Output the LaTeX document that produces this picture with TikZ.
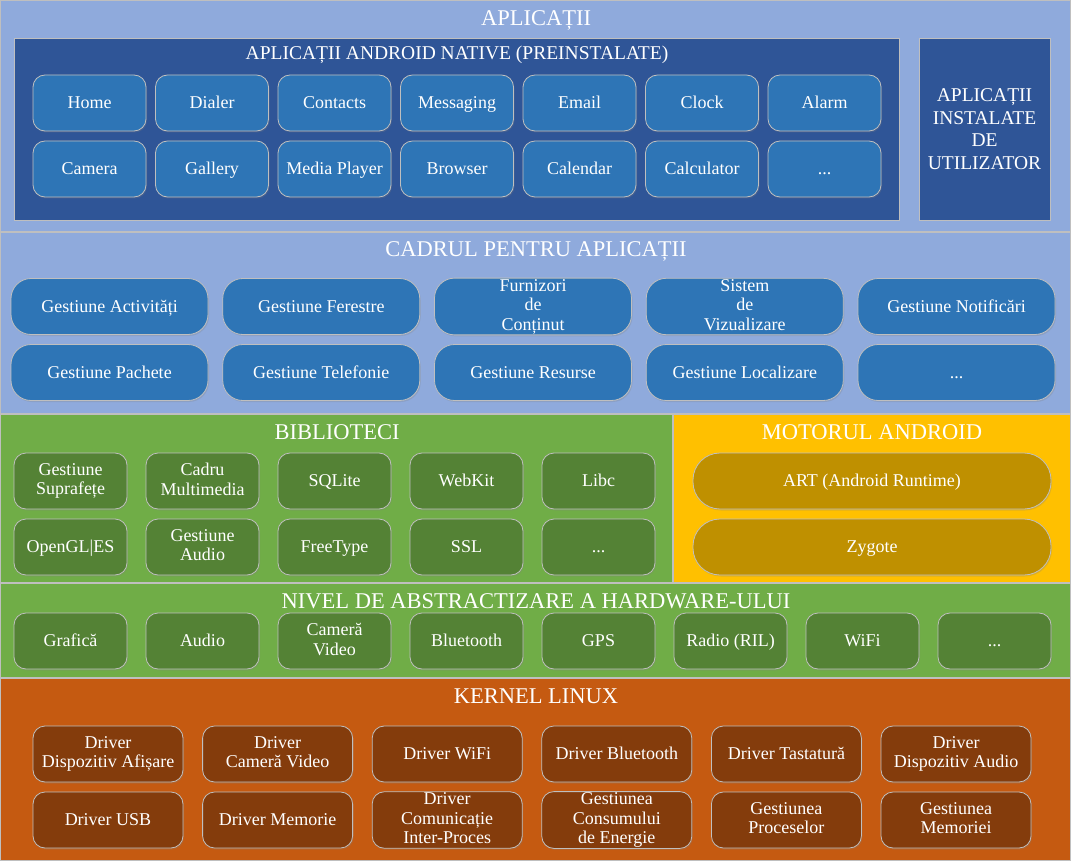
\documentclass[tikz,border=0pt]{standalone}
\usepackage{fontspec}
\setmainfont{Liberation Serif}
\usepackage{xcolor}
\usetikzlibrary{positioning, shadows}

\definecolor{skyblue}{HTML}{8FAADC}
\definecolor{navy}{HTML}{2F5597}
\definecolor{appblue}{HTML}{2E75B6}
\definecolor{libgreen}{HTML}{70AD47}
\definecolor{boxgreen}{HTML}{548235}
\definecolor{gold}{HTML}{FFC000}
\definecolor{darkgold}{HTML}{BF9000}
\definecolor{rust}{HTML}{C55A11}
\definecolor{brown}{HTML}{843C0C}
\definecolor{edgegray}{HTML}{BFBFBF}

\newcommand{\moredots}{...}

\begin{document}
\begin{tikzpicture}[x=1pt, y=-1pt,
	ttl/.style={text=white, font=\fontsize{22.5}{26}\selectfont, inner sep=0pt, text height=15pt, text depth=0pt},
	panel/.style={draw=edgegray, fill=navy, line width=0.8pt, inner sep=0pt},
	btn/.style={draw=edgegray, line width=0.8pt, rounded corners=12pt, minimum width=113pt, minimum height=56pt,
		text=white, align=center, inner sep=1pt, font=\fontsize{18}{19.5}\selectfont,
		execute at begin node={\rule{0pt}{15pt}}, execute at end node={\rule[-3.5pt]{0pt}{3.5pt}},
		drop shadow={opacity=0.25, shadow xshift=1pt, shadow yshift=-1.5pt}},
	appbtn/.style={btn, fill=appblue},
	fwbtn/.style={btn, fill=appblue, minimum width=197pt, rounded corners=20pt},
	libbtn/.style={btn, fill=boxgreen},
	artbtn/.style={btn, fill=darkgold, minimum width=358pt, rounded corners=27pt},
	krnbtn/.style={btn, fill=brown, minimum width=150pt},
]
\useasboundingbox (0,0) rectangle (1071,861);

% layers
\fill[skyblue] (0,0) rectangle (1071,414);
\fill[libgreen] (0,414) rectangle (673,583);
\fill[gold] (673,414) rectangle (1071,583);
\fill[libgreen] (0,583) rectangle (1071,678);
\fill[rust] (0,678) rectangle (1071,861);
\draw[edgegray, line width=1.2pt] (0,0) rectangle (1071,861);
\draw[edgegray, line width=1.2pt] (0,232) -- (1071,232) (0,414) -- (1071,414) (673,414) -- (673,583)
	(0,583) -- (1071,583) (0,678) -- (1071,678);

% aplicatii
\node[ttl] (tApl) at (536,18) {APLICAȚII};
\node[panel, minimum width=885pt, minimum height=182pt] (native) at (456.5,129) {};
\node[ttl, font=\fontsize{19.5}{22}\selectfont, text height=13pt] (tNative) at (457,53) {APLICAȚII ANDROID NATIVE (PREINSTALATE)};
\node[panel, minimum width=131pt, minimum height=182pt, text=white, align=center,
	font=\fontsize{19.5}{22.5}\selectfont] (userApps) at (984.5,129) {APLICAȚII\\INSTALATE\\DE\\UTILIZATOR};
\foreach \lbl [count=\i from 0] in {Home, Dialer, Contacts, Messaging, Email, Clock, Alarm}
	\node[appbtn] (appA\i) at ({89.5+122.5*\i},103) {\lbl};
\foreach \lbl [count=\i from 0] in {Camera, Gallery, Media Player, Browser, Calendar, Calculator, \moredots}
	\node[appbtn] (appB\i) at ({89.5+122.5*\i},169) {\lbl};

% cadrul pentru aplicatii
\node[ttl] (tFw) at (536,249) {CADRUL PENTRU APLICAȚII};
\foreach \lbl [count=\i from 0] in {Gestiune Activități, Gestiune Ferestre, {Furnizori\\de\\Conținut}, {Sistem\\de\\Vizualizare}, Gestiune Notificări}
	\node[fwbtn] (fwA\i) at ({109.5+211.75*\i},306.5) {\lbl};
\foreach \lbl [count=\i from 0] in {Gestiune Pachete, Gestiune Telefonie, Gestiune Resurse, Gestiune Localizare, \moredots}
	\node[fwbtn] (fwB\i) at ({109.5+211.75*\i},372.5) {\lbl};

% biblioteci
\node[ttl] (tLib) at (337,432) {BIBLIOTECI};
\foreach \lbl [count=\i from 0] in {{Gestiune\\Suprafețe}, {Cadru\\Multimedia}, SQLite, WebKit, Libc}
	\node[libbtn] (libA\i) at ({70.5+132*\i},481) {\lbl};
\foreach \lbl [count=\i from 0] in {OpenGL|ES, {Gestiune\\Audio}, FreeType, SSL, \moredots}
	\node[libbtn] (libB\i) at ({70.5+132*\i},547) {\lbl};

% motorul android
\node[ttl] (tRt) at (872,432) {MOTORUL ANDROID};
\node[artbtn] (art) at (872,481) {ART (Android Runtime)};
\node[artbtn] (zygote) at (872,547) {Zygote};

% hal
\node[ttl] (tHal) at (536,601) {NIVEL DE ABSTRACTIZARE A HARDWARE-ULUI};
\foreach \lbl [count=\i from 0] in {Grafică, Audio, {Cameră\\Video}, Bluetooth, GPS, Radio (RIL), WiFi, \moredots}
	\node[libbtn] (hal\i) at ({70.5+132*\i},641) {\lbl};

% kernel
\node[ttl] (tKrn) at (536,696) {KERNEL LINUX};
\foreach \lbl [count=\i from 0] in {{Driver\\Dispozitiv Afișare}, {Driver\\Cameră Video}, Driver WiFi, Driver Bluetooth, Driver Tastatură, {Driver\\Dispozitiv Audio}}
	\node[krnbtn] (krnA\i) at ({108+169.6*\i},754) {\lbl};
\foreach \lbl [count=\i from 0] in {Driver USB, Driver Memorie, {Driver\\Comunicație\\Inter-Proces}, {Gestiunea\\Consumului\\de Energie}, {Gestiunea\\Proceselor}, {Gestiunea\\Memoriei}}
	\node[krnbtn] (krnB\i) at ({108+169.6*\i},820) {\lbl};
\end{tikzpicture}
\end{document}
